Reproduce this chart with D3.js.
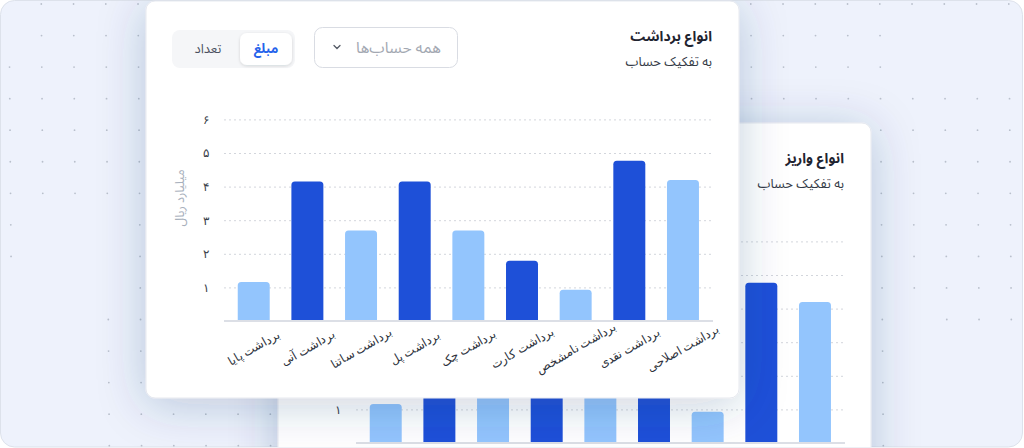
<!DOCTYPE html>
<html><head><meta charset="utf-8">
<script src="https://cdn.jsdelivr.net/npm/d3@7"></script>
<style>
html,body{margin:0;padding:0;background:#fff;}
svg{display:block;font-family:'Noto Sans Arabic','Vazirmatn','DejaVu Sans',sans-serif;}
</style></head><body>
<svg id="c" width="1024" height="448"></svg>
<script>
// ---- data ----
const categories = ["برداشت پایا","برداشت آنی","برداشت ساتنا","برداشت پل","برداشت چک","برداشت کارت","برداشت نامشخص","برداشت نقدی","برداشت اصلاحی"];
const withdrawValues = [1.16, 4.15, 2.69, 4.15, 2.69, 1.79, 0.93, 4.77, 4.2];
const depositValues  = [1.16, 4.15, 2.69, 4.15, 2.69, 1.79, 0.93, 4.77, 4.2];
const yTicks = [1, 2, 3, 4, 5, 6];
const yTickLabels = ["۱", "۲", "۳", "۴", "۵", "۶"];
const frontTitle = "انواع برداشت";
const backTitle = "انواع واریز";
const subtitle = "به تفکیک حساب";
const yAxisTitle = "میلیارد ریال";
const dropdownText = "همه حساب‌ها";
const toggleLabels = ["مبلغ", "تعداد"];

const svg = d3.select("#c");
const W = 1024, H = 448;
const defs = svg.append("defs");
const f = defs.append("filter").attr("id","sh").attr("x","-30%").attr("y","-30%").attr("width","160%").attr("height","170%");
f.append("feDropShadow").attr("dx",0).attr("dy",6).attr("stdDeviation",24)
  .attr("flood-color","#2a4170").attr("flood-opacity",0.24);
const f2 = defs.append("filter").attr("id","sh2").attr("x","-30%").attr("y","-30%").attr("width","160%").attr("height","180%");
f2.append("feDropShadow").attr("dx",0).attr("dy",1).attr("stdDeviation",1.5)
  .attr("flood-color","#1f2937").attr("flood-opacity",0.15);
defs.append("clipPath").attr("id","frame").append("rect")
  .attr("x",0.5).attr("y",0.5).attr("width",1022).attr("height",446.5).attr("rx",14);

// outer background
svg.append("rect").attr("x",0.5).attr("y",0.5).attr("width",1022).attr("height",446.5).attr("rx",14)
  .attr("fill","#eef2fc").attr("stroke","#dde2eb");

const root = svg.append("g").attr("clip-path","url(#frame)");

// dotted backdrop (faded out in a few areas, as in the picture)
function dotHidden(xx, yy) {
  if (xx < 20 && (yy < 50 || yy > 270)) return true;
  if (xx > 20 && xx < 95 && yy > 210) return true;
  if (xx > 95 && xx < 125 && yy > 210 && yy < 300) return true;
  if (xx > 900 && yy > 20 && yy < 80) return true;
  if (xx > 900 && xx < 930 && yy > 300) return true;
  if (xx > 930 && yy > 330) return true;
  return false;
}
const dots = root.append("g").attr("fill","#b9c0cc");
for (let yy = 4; yy < H; yy += 31.55) {
  for (let xx = 9; xx < W; xx += 32.25) {
    const cx = xx + yy * 0.008;
    if (dotHidden(cx, yy)) continue;
    dots.append("circle").attr("cx", cx).attr("cy", yy).attr("r", 0.9);
  }
}

// scales (front card coordinates)
const x = d3.scaleBand().domain(categories).range([226.9, 709.8]).paddingInner(0.404).paddingOuter(0.202);
const y = d3.scaleLinear().domain([0, 6]).range([321, 119.4]);

function roundTop(x0, y0, w, h, r) {
  r = Math.min(r, h, w/2);
  return `M${x0},${y0+h}V${y0+r}Q${x0},${y0} ${x0+r},${y0}H${x0+w-r}Q${x0+w},${y0} ${x0+w},${y0+r}V${y0+h}Z`;
}

function drawCard(g, title, values, isFront) {
  g.append("rect").attr("x",146).attr("y",1).attr("width",593).attr("height",397).attr("rx",9)
    .attr("fill","#fff").attr("stroke","#e6e9ef").attr("filter","url(#sh)");

  g.append("text").attr("x",712).attr("y",41).attr("text-anchor","end")
    .attr("font-size",14).attr("font-weight",700).attr("fill","#1f2430").text(title);
  g.append("text").attr("x",712).attr("y",65.5).attr("text-anchor","end")
    .attr("font-size",13).attr("fill","#343a46").text(subtitle);

  if (isFront) {
    // dropdown
    g.append("rect").attr("x",314.5).attr("y",27.5).attr("width",143).attr("height",40).attr("rx",8)
      .attr("fill","#fff").attr("stroke","#d9dce3");
    g.append("text").attr("x",441).attr("y",53).attr("text-anchor","end")
      .attr("font-size",15.5).attr("fill","#a3a8b2").text(dropdownText);
    g.append("path").attr("d","M334,45.5 L337,48.5 L340,45.5").attr("fill","none")
      .attr("stroke","#555b66").attr("stroke-width",1.3).attr("stroke-linecap","round");

    // toggle
    g.append("rect").attr("x",172).attr("y",30).attr("width",123).attr("height",38).attr("rx",8).attr("fill","#f5f6f8");
    g.append("rect").attr("x",240).attr("y",33).attr("width",52).attr("height",32).attr("rx",7)
      .attr("fill","#fff").attr("filter","url(#sh2)");
    g.append("text").attr("x",266).attr("y",53).attr("text-anchor","middle")
      .attr("font-size",13).attr("font-weight",700).attr("fill","#2563eb").text(toggleLabels[0]);
    g.append("text").attr("x",208).attr("y",53).attr("text-anchor","middle")
      .attr("font-size",13).attr("fill","#4b5160").text(toggleLabels[1]);

    g.append("text").attr("transform","translate(184,198) rotate(-90)").attr("text-anchor","middle")
      .attr("font-size",12.5).attr("fill","#a8b0bc").text(yAxisTitle);
  }

  // y axis with grid (on the back card only the lowest label is visible)
  const ya = g.append("g").attr("transform","translate(224,0)")
    .call(d3.axisLeft(y).tickValues(yTicks).tickSize(-(713-224)).tickPadding(15)
      .tickFormat((d,i) => yTickLabels[i]));
  ya.select(".domain").remove();
  ya.selectAll(".tick line").attr("stroke","#d3d6dc").attr("stroke-dasharray","2,3");
  ya.selectAll(".tick text").attr("font-size",12).attr("fill","#3a3f4a").attr("font-family","inherit");
  if (!isFront) ya.selectAll(".tick text").filter((d,i) => i > 0).remove();

  // bars
  g.append("g").selectAll("path").data(values).join("path")
    .attr("d",(d,i) => roundTop(x(categories[i]), y(d), x.bandwidth(), y(0)-y(d), 3.5))
    .attr("fill",(d,i) => i % 2 ? "#1e50d8" : "#93c5fd");

  // x axis
  const xa = g.append("g").attr("transform",`translate(0,${y(0)})`)
    .call(d3.axisBottom(x).tickSize(0));
  xa.select(".domain").attr("stroke","#dcdfe6").attr("stroke-width",2)
    .attr("d","M224,0H713");
  if (isFront) {
    xa.selectAll(".tick text").attr("y",0).attr("dy","0.35em").attr("text-anchor","middle")
      .attr("transform","translate(0,27) rotate(-30)")
      .attr("font-size",12).attr("fill","#2d323c").attr("font-family","inherit");
  } else {
    xa.selectAll(".tick text").remove();
  }
}

drawCard(root.append("g").attr("transform","translate(132,122)"), backTitle, depositValues, false);
drawCard(root.append("g"), frontTitle, withdrawValues, true);
</script>
</body></html>
